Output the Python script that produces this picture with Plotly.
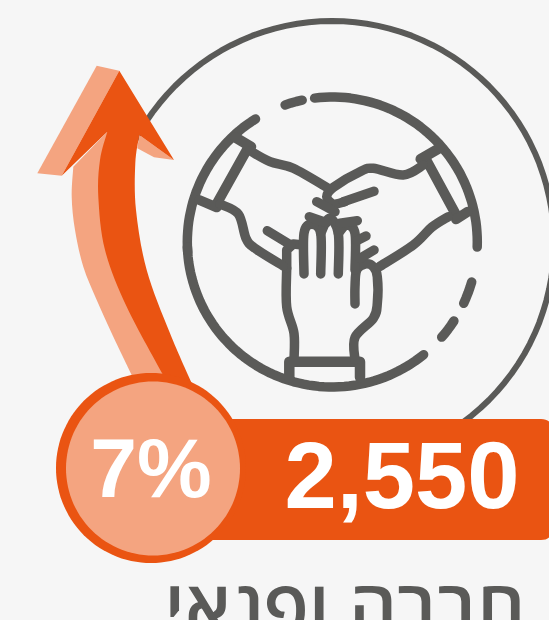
import math
import plotly.graph_objects as go

percent_label = ["7%"]
count_label = ["2,550"]
category_label = ["חברה ופנאי"]

BG = "#f6f6f6"
GREY = "#5a5a58"
ORANGE = "#ea5412"
LIGHT = "#f4a480"


def zoom_a(p):
    return (170 + p[0] / 3, 90 + p[1] / 3)


def zoom_b(p):
    return (30 + p[0] / 3, 50 + p[1] / 3)


def fmt(p):
    return f"{p[0]:.1f},{p[1]:.1f}"


def smooth(points, start=True):
    d = ("M" + fmt(points[0])) if start else (" L" + fmt(points[0]))
    n = len(points)
    for i in range(n - 1):
        p0 = points[max(i - 1, 0)]
        p1 = points[i]
        p2 = points[i + 1]
        p3 = points[min(i + 2, n - 1)]
        c1 = (p1[0] + (p2[0] - p0[0]) / 6, p1[1] + (p2[1] - p0[1]) / 6)
        c2 = (p2[0] - (p3[0] - p1[0]) / 6, p2[1] - (p3[1] - p1[1]) / 6)
        d += f" C{fmt(c1)} {fmt(c2)} {fmt(p2)}"
    return d


def poly(points):
    return "M" + " L".join(fmt(p) for p in points) + " Z"


def circle_path(cx, cy, r):
    pts = [(cx + r * math.cos(a * math.pi / 60), cy + r * math.sin(a * math.pi / 60)) for a in range(120)]
    return "M" + " L".join(fmt(p) for p in pts) + " Z"


def arc(cx, cy, r, a0, a1):
    n = max(2, int(abs(a1 - a0) / 2))
    pts = []
    for i in range(n + 1):
        a = math.radians(a0 + (a1 - a0) * i / n)
        pts.append((cx + r * math.cos(a), cy + r * math.sin(a)))
    return "M" + " L".join(fmt(p) for p in pts)


shapes = []


def fill(path, color):
    shapes.append(dict(type="path", path=path, fillcolor=color, line=dict(width=0), layer="below"))


def stroke(path, width=9.5, color=GREY):
    shapes.append(dict(type="path", path=path, line=dict(color=color, width=width), layer="below"))


def hand(points, width=9.5):
    stroke(smooth([zoom_a(p) for p in points]), width)


def straight(points, width=9.5):
    stroke("M" + " L".join(fmt(zoom_a(p)) for p in points), width)


# outer ring
stroke(circle_path(332, 243, 222), 6)

# inner dashed ring
cx, cy, r = 332.3, 242, 145
stroke(arc(cx, cy, r, -97, 2))
stroke(arc(cx, cy, r, -109, -102))
stroke(arc(cx, cy, r, -122, -184))
stroke(arc(cx, cy, r, 178, 51))
stroke(arc(cx, cy, r, 41, 33))
stroke(arc(cx, cy, r, 25, 16))

# bottom hand
hand([(350, 535), (350, 650), (372, 730), (372, 810)])
straight([(358, 862), (358, 815), (570, 815), (570, 862)], 10.5)
hand([(555, 810), (555, 742), (610, 685), (622, 640), (622, 560), (610, 530), (585, 522), (560, 540), (555, 590), (555, 642)])
straight([(350, 535), (350, 480), (370, 462), (400, 465)])
stroke(smooth([zoom_a(p) for p in [(402, 552), (402, 430), (425, 403), (452, 430), (452, 552)]]))
stroke(smooth([zoom_a(p) for p in [(452, 430), (478, 385), (505, 430), (505, 552)]]))
stroke(smooth([zoom_a(p) for p in [(505, 430), (530, 405), (555, 430), (555, 540)]]))

# left hand
straight([(235, 172), (138, 345)], 10)
straight([(195, 142), (243, 170)], 10.5)
straight([(88, 330), (140, 352)], 10)
hand([(240, 182), (300, 215), (370, 235), (480, 298)])
hand([(150, 342), (205, 372), (228, 445), (255, 475), (340, 528)])
straight([(292, 422), (362, 465)])

# right hand
straight([(770, 212), (860, 378)], 10)
straight([(752, 207), (808, 175)], 10.5)
straight([(858, 388), (893, 365)], 10)
hand([(760, 225), (700, 255), (610, 235), (570, 245), (490, 292), (470, 320), (490, 342), (525, 335)])
straight([(520, 335), (612, 304)])
hand([(835, 380), (785, 412), (730, 465), (628, 530)])
straight([(440, 335), (495, 365)])
straight([(418, 380), (470, 398)])
straight([(562, 392), (510, 400)])
straight([(588, 438), (560, 452)])
straight([(612, 480), (570, 505)])

# arrow
fill(
    smooth([zoom_b(p) for p in [(130, 350), (125, 440), (135, 540), (160, 650), (200, 750), (250, 860), (310, 985)]])
    + " L" + fmt(zoom_b((420, 985)))
    + " L" + fmt(zoom_b((232, 245))) + " Z",
    LIGHT,
)
fill(poly([zoom_b(p) for p in [(200, 47), (268, 62), (95, 377), (22, 370)]]), LIGHT)
fill(poly([zoom_b(p) for p in [(328, 255), (432, 330), (372, 322), (322, 295)]]), LIGHT)
arrow = (
    "M" + fmt(zoom_b((268, 62)))
    + " L" + fmt(zoom_b((432, 330)))
    + smooth([zoom_b(p) for p in [(328, 255), (316, 340), (318, 480), (350, 660), (420, 850), (490, 1010)]], start=False)
    + " L" + fmt(zoom_b((500, 1020)))
    + smooth([zoom_b(p) for p in [(405, 985), (290, 770), (225, 600), (205, 440), (210, 330), (232, 245)]], start=False)
    + " L" + fmt(zoom_b((95, 377)))
    + " Z"
)
fill(arrow, ORANGE)

# value band and badge
fill(
    "M190,419 L541,419 Q552,419 552,430 L552,529 Q552,540 541,540 L190,540 Z",
    ORANGE,
)
fill(circle_path(151, 468, 95), ORANGE)
fill(circle_path(153, 468.5, 87), LIGHT)

fig = go.Figure()
fig.add_trace(go.Scatter(
    x=[151], y=[476], mode="text", text=percent_label,
    textfont=dict(family="Liberation Sans", size=84, color="white", weight="bold"),
    hoverinfo="skip",
))
fig.add_trace(go.Scatter(
    x=[402], y=[484], mode="text", text=count_label,
    textfont=dict(family="Liberation Sans", size=94, color="white", weight="bold"),
    hoverinfo="skip",
))
fig.add_trace(go.Scatter(
    x=[345], y=[615], mode="text", text=category_label,
    textfont=dict(family="Open Sans", size=75, color=GREY, weight=600),
    hoverinfo="skip", cliponaxis=False,
))

fig.update_layout(
    width=549,
    height=620,
    margin=dict(l=0, r=0, t=0, b=0),
    paper_bgcolor=BG,
    plot_bgcolor=BG,
    showlegend=False,
    shapes=shapes,
    xaxis=dict(range=[0, 549], visible=False, fixedrange=True),
    yaxis=dict(range=[620, 0], visible=False, fixedrange=True),
)
fig.write_html(
    "out.html",
    config={"displayModeBar": False},
    post_script=(
        "document.body.style.margin='0';document.body.style.overflow='hidden';"
        "document.body.style.background='#f6f6f6';"
        "var s=document.createElement('style');"
        "s.textContent='.shapelayer path{stroke-linecap:round !important;stroke-linejoin:round !important}';"
        "document.head.appendChild(s);"
    ),
)
